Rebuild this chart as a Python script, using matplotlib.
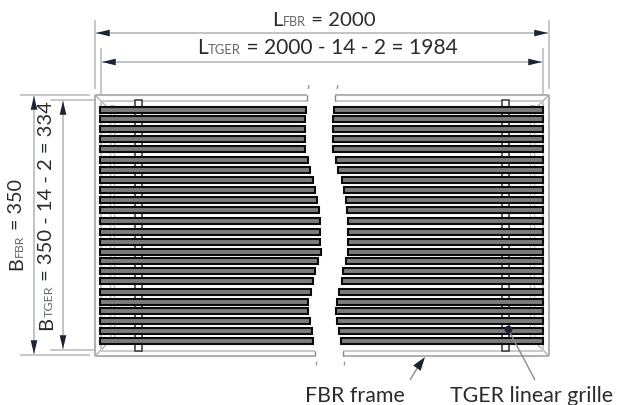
import matplotlib
matplotlib.use('Agg')
import matplotlib.pyplot as plt
from matplotlib.patches import Rectangle

plt.rcParams['font.family'] = ['Lato', 'DejaVu Sans']

# where each slat stops left and right of the break, top to bottom
slat_y = [110, 119, 129, 139, 149, 160, 170, 180, 190, 200, 210, 221,
          232, 242, 252, 261, 271, 281, 292, 302, 311, 321, 331, 341]
break_left = [306, 305, 305, 305, 305, 308, 310, 313, 315, 317, 319, 320,
              320, 320, 321, 318, 315, 313, 311, 308, 308, 310, 312, 313]
break_right = [334, 333, 333, 333, 333, 336, 338, 342, 344, 346, 347, 348,
               348, 348, 348, 346, 343, 342, 339, 337, 336, 337, 339, 341]

top_labels = [('L', 'FBR', ' = 2000'), ('L', 'TGER', ' = 2000 - 14 - 2 = 1984')]
side_labels = [('B', 'FBR', ' = 350'), ('B', 'TGER', ' = 350 - 14 - 2 = 334')]
callouts = ['FBR frame', 'TGER linear grille']

NAVY = '#1c2433'
GRAY = '#bcbfc3'
TEXT = '#2b2b2b'

fig = plt.figure(figsize=(6.28, 4.05), dpi=100)
ax = fig.add_axes([0, 0, 1, 1])
ax.set_xlim(0, 628)
ax.set_ylim(405, 0)
ax.axis('off')


def line(xs, ys, color=GRAY, lw=1.2, z=1):
    ax.plot(xs, ys, color=color, lw=lw, zorder=z, solid_capstyle='butt')


def arrow(x0, y0, x1, y1):
    line([x0, x1], [y0, y1], color=GRAY, lw=1.3)
    for start, end in [((x1, y1), (x0, y0)), ((x0, y0), (x1, y1))]:
        ax.annotate('', xy=end, xytext=start,
                    arrowprops=dict(arrowstyle='-|>,head_length=0.9,head_width=0.22',
                                    color=NAVY, lw=0, shrinkA=0, shrinkB=0,
                                    mutation_scale=11), zorder=5)


def label(x, y, parts, size, rotation=0):
    # big letter, small subscript, then the rest, laid out one after the other
    big, small, rest = parts
    r = fig.canvas.get_renderer()
    pos = x if rotation == 0 else y
    for s, fs, col in [(big, size, TEXT), (small, size * 0.62, '#666666'),
                       (rest.replace(' ', '\u00a0'), size, TEXT)]:
        if rotation == 0:
            t = ax.text(pos, y, s, fontsize=fs, color=col, ha='left', va='baseline')
            pos += t.get_window_extent(r).width
        else:
            t = ax.text(x, pos, s, fontsize=fs, color=col, rotation=90,
                        ha='left', va='bottom', rotation_mode='anchor')
            pos -= t.get_window_extent(r).height


# frame, two light outlines with a gap at the break
for x0, x1, y0, y1, col in [(95, 549, 95, 356, '#b0b3b6'), (101, 543, 101, 351, '#c8cacc')]:
    line([x0, x0], [y0, y1], color=col, lw=1.5, z=2)
    line([x1, x1], [y0, y1], color=col, lw=1.5, z=2)
    line([x0, 307], [y0, y0], color=col, lw=1.5, z=2)
    line([335, x1], [y0, y0], color=col, lw=1.5, z=2)
    line([x0, 315], [y1, y1], color=col, lw=1.5, z=2)
    line([343, x1], [y1, y1], color=col, lw=1.5, z=2)
for (x0, y0, x1, y1) in [(95, 95, 107, 107), (549, 95, 537, 107),
                         (95, 356, 107, 344), (549, 356, 537, 344)]:
    line([x0, x1], [y0, y1], color='#b0b3b6', lw=1)

# ends of the frame at the break and the small ticks above and below
line([307, 307], [95, 101], color='#888888', lw=1, z=4)
line([335, 335], [95, 101], color='#888888', lw=1, z=4)
line([315, 315], [351, 356], color='#888888', lw=1, z=4)
line([343, 343], [351, 356], color='#888888', lw=1, z=4)
line([309, 308], [85, 89], color='#999999', lw=1)
line([338, 337], [85, 89], color='#999999', lw=1)
line([316, 316], [361, 365], color='#999999', lw=1)
line([344, 344], [361, 365], color='#999999', lw=1)

# cross bars and the thin bars near the ends
for x in [135, 502]:
    ax.add_patch(Rectangle((x, 100), 6.5, 251, fc='white', ec='#333333', lw=1.1, zorder=3))
for x in [109.5, 530]:
    ax.add_patch(Rectangle((x, 105), 4, 238, fc='white', ec='#c4c6c8', lw=0.9, zorder=3))

# slats
for y, left, right in zip(slat_y, break_left, break_right):
    for x0, x1 in [(100, left), (right, 543)]:
        ax.add_patch(Rectangle((x0, y - 2.7), x1 - x0, 5.4, fc='#7c7c7c', ec='#0c0c0c',
                               lw=1.5, zorder=4))

# dimension lines
line([95, 95], [20, 89])
line([549, 549], [20, 89])
line([101, 101], [48, 94])
line([543, 543], [48, 94])
line([20, 90], [95, 95])
line([20, 90], [355, 355])
line([50, 95], [100, 100])
line([50, 95], [350, 350])
arrow(96, 33, 548, 33)
arrow(102, 62, 542, 62)
arrow(34, 96, 34, 354)
arrow(63, 101, 63, 349)

label(272, 26, top_labels[0], 14.7)
label(197, 54, top_labels[1], 15.1)
label(25, 270, side_labels[0], 14.2, rotation=90)
label(55, 330, side_labels[1], 14.5, rotation=90)

# callouts
line([410, 421], [380, 362], color='#8a8d90', lw=1)
ax.annotate('', xy=(425, 357), xytext=(417, 368),
            arrowprops=dict(arrowstyle='-|>,head_length=0.9,head_width=0.3', color=NAVY,
                            lw=0, shrinkA=0, shrinkB=0, mutation_scale=11), zorder=5)
line([508, 535], [329, 380], color='#8a8d90', lw=1, z=5)
ax.plot([508], [329], 'o', color=NAVY, ms=4.5, zorder=6)
ax.text(305, 402, callouts[0], fontsize=15.4, color=TEXT, ha='left', va='baseline')
ax.text(450, 402, callouts[1], fontsize=15.4, color=TEXT, ha='left', va='baseline')

fig.savefig('out.png', dpi=100)
